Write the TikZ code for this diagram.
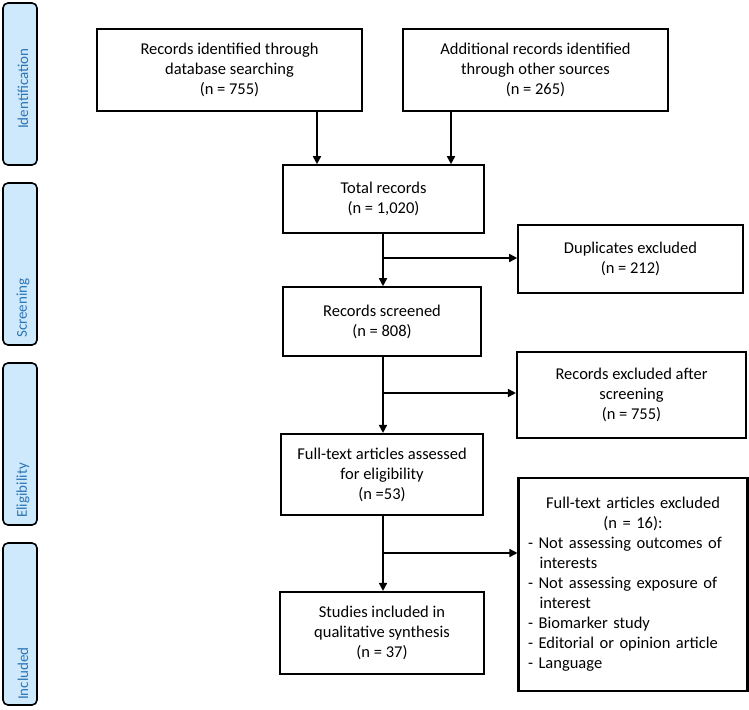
\documentclass[tikz,border=0pt]{standalone}
\usepackage{fontspec}
\setmainfont{Carlito}
\usetikzlibrary{arrows.meta,positioning}
\definecolor{sidefill}{HTML}{CDE9FB}
\definecolor{sidetext}{HTML}{2E75B6}
\newcommand{\indentitem}{\makebox[0.7em]{}}
\begin{document}
\begin{tikzpicture}[x=1pt,y=1pt,
  box/.style={draw=black, line width=1.6pt, align=center, inner sep=0pt,
    font=\fontsize{16.5}{20}\selectfont},
  thickbox/.style={box, line width=2.1pt},
  side/.style={draw=black, line width=1.6pt, fill=sidefill, rounded corners=5pt},
  sidelabel/.style={text=sidetext, rotate=90, anchor=west, inner sep=0pt,
    font=\fontsize{15}{18}\selectfont},
  arr/.style={line width=1.6pt, -{Triangle[length=8pt,width=8pt]}}
]
\useasboundingbox (0,0) rectangle (749,-709);
\fill[white] (0,0) rectangle (749,-709);

% side bars
\draw[side] (3,-3) rectangle (37,-165);
\draw[side] (3,-183) rectangle (37,-345);
\draw[side] (3,-363) rectangle (37,-525);
\draw[side] (3,-543) rectangle (37,-705);
\node[sidelabel] (lid) at (23,-129) {Identification};
\node[sidelabel] (lsc) at (23,-338) {Screening};
\node[sidelabel] (lel) at (23,-518) {Eligibility};
\node[sidelabel] (lin) at (23,-700) {Included};

% boxes
\node[box, minimum width=265pt, minimum height=82pt] (db) at (229.5,-70)
  {Records identified through\\database searching\\(n = 755)};
\node[box, minimum width=265pt, minimum height=82pt] (other) at (535.5,-70)
  {Additional records identified\\through other sources\\(n = 265)};
\node[box, minimum width=201pt, minimum height=68pt] (total) at (383.5,-199)
  {Total records\\(n = 1,020)};
\node[box, minimum width=225pt, minimum height=68pt] (dup) at (630.5,-259)
  {Duplicates excluded\\(n = 212)};
\node[box, minimum width=198pt, minimum height=69pt] (screened) at (382,-321.5)
  {Records screened\\(n = 808)};
\node[thickbox, minimum width=229pt, minimum height=86pt] (exscr) at (631.5,-395)
  {Records excluded after\\screening\\(n = 755)};
\node[thickbox, minimum width=202pt, minimum height=81pt] (full) at (382,-474.5)
  {Full-text articles assessed\\for eligibility\\(n =53)};
\node[thickbox, minimum width=229pt, minimum height=213pt, text width=210pt, align=left] (exfull) at (633,-584.5)
  {\centering Full-text articles excluded\\(n = 16):\par
   \raggedright
   - Not assessing outcomes of\\\indentitem interests\\
   - Not assessing exposure of\\\indentitem interest\\
   - Biomarker study\\
   - Editorial or opinion article\\
   - Language\par};
\node[thickbox, minimum width=204pt, minimum height=82pt] (incl) at (382,-633)
  {Studies included in\\qualitative synthesis\\(n = 37)};

% connectors
\draw[arr] (db.south -| 317,0) -- (total.north -| 317,0);
\draw[arr] (other.south -| 451,0) -- (total.north -| 451,0);
\draw[arr] (total.south -| 383,0) -- (screened.north -| 383,0);
\coordinate (b1) at (383,-258);
\draw[arr] (b1) -- (dup.west |- b1);
\draw[arr] (screened.south -| 383,0) -- (full.north -| 383,0);
\coordinate (b2) at (383,-393);
\draw[arr] (b2) -- (exscr.west |- b2);
\draw[arr] (full.south -| 383,0) -- (incl.north -| 383,0);
\coordinate (b3) at (383,-553);
\draw[arr] (b3) -- (exfull.west |- b3);
\end{tikzpicture}
\end{document}
